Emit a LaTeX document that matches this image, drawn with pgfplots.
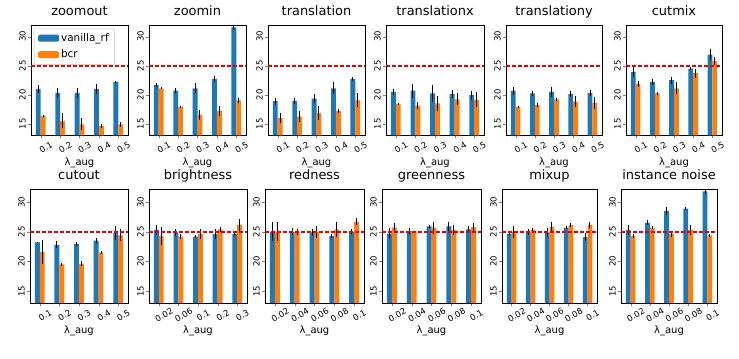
\documentclass[border=0pt]{standalone}
\usepackage{fontspec}
\setmainfont{DejaVu Sans}
\usepackage{pgfplots}
\usepackage{pgfplotstable}
\pgfplotsset{compat=1.18}
\definecolor{mblue}{HTML}{1F77B4}
\definecolor{morange}{HTML}{FF7F0E}
\definecolor{mred}{RGB}{235,0,0}

\pgfplotstableread{
x b be o oe
0 21.0 0.7 16.3 0.2
1 20.3 0.9 15.5 1.3
2 20.3 0.8 14.9 1.0
3 21.0 0.9 14.6 0.4
4 22.2 0.1 14.9 0.4
}\tzoomout
\pgfplotstableread{
x b be o oe
0 21.7 0.3 21.1 0.2
1 20.7 0.5 17.9 0.2
2 21.1 0.9 16.5 0.9
3 22.7 0.6 17.2 0.8
4 31.6 0.4 19.0 0.5
}\tzoomin
\pgfplotstableread{
x b be o oe
0 18.9 0.6 16.0 0.8
1 18.9 0.5 16.2 0.9
2 19.3 0.8 16.8 1.2
3 21.1 1.0 17.2 0.4
4 22.7 0.4 19.0 1.2
}\ttranslation
\pgfplotstableread{
x b be o oe
0 20.5 0.5 18.4 0.2
1 20.7 1.2 18.1 0.6
2 20.2 1.5 18.5 1.3
3 20.1 0.7 19.2 1.0
4 19.9 0.8 19.1 1.3
}\ttranslationx
\pgfplotstableread{
x b be o oe
0 20.7 0.7 17.9 0.1
1 20.2 0.4 18.2 0.3
2 20.5 0.9 19.2 0.3
3 20.1 0.5 18.8 0.9
4 20.3 0.5 18.6 1.0
}\ttranslationy
\pgfplotstableread{
x b be o oe
0 23.9 0.9 21.9 0.5
1 22.2 0.5 20.2 0.3
2 22.5 0.6 21.1 1.0
3 24.5 0.2 23.7 0.8
4 26.9 0.9 25.8 0.7
}\tcutmix
\pgfplotstableread{
x b be o oe
0 23.2 0.1 21.6 2.0
1 22.8 0.6 19.5 0.3
2 22.9 0.3 19.6 0.4
3 23.5 0.4 21.5 0.3
4 24.8 1.2 24.4 1.0
}\tcutout
\pgfplotstableread{
x b be o oe
0 25.3 0.8 24.3 1.5
1 24.9 0.6 24.2 0.5
2 24.2 0.2 24.6 0.9
3 24.6 0.9 25.4 0.4
4 24.6 0.3 26.2 1.0
}\tbrightness
\pgfplotstableread{
x b be o oe
0 25.0 1.6 25.0 1.6
1 25.0 0.6 25.0 0.5
2 24.9 0.6 25.0 1.0
3 24.3 0.3 25.4 1.2
4 25.0 0.4 26.7 0.6
}\tredness
\pgfplotstableread{
x b be o oe
0 24.7 0.9 25.7 0.7
1 25.1 0.5 25.1 0.1
2 25.9 0.3 25.7 1.0
3 25.9 0.8 25.3 0.9
4 25.4 0.5 25.8 0.6
}\tgreenness
\pgfplotstableread{
x b be o oe
0 24.6 0.2 25.0 1.0
1 25.0 0.5 25.3 0.4
2 24.9 0.7 25.8 0.8
3 25.7 0.3 26.1 0.3
4 24.1 0.7 26.2 0.5
}\tmixup
\pgfplotstableread{
x b be o oe
0 25.3 0.9 24.3 0.4
1 26.5 0.4 25.7 0.3
2 28.5 0.6 24.6 0.5
3 28.9 0.2 25.3 0.8
4 31.8 0.4 24.4 0.3
}\tinstance

\pgfplotsset{
  panel/.style={
    scale only axis, anchor=south west,
    xmin=-0.5, xmax=4.5, ymin=13,
    xtick={0,1,2,3,4}, ytick={15,20,25,30},
    tick align=outside, major tick length=3bp,
    xtick pos=left, ytick pos=left,
    tick label style={font=\fontsize{8.5}{10}\selectfont},
    /pgf/number format/assume math mode=true,
    yticklabel style={rotate=90, anchor=south, inner sep=2bp},
    xticklabel style={rotate=30, anchor=center, yshift=-10.5bp},
    xlabel={λ\_aug},
    xlabel style={font=\fontsize{10}{12}\selectfont, at={(axis description cs:0.5,0)}, anchor=center, yshift=-28bp},
    title style={font=\fontsize{13}{15}\selectfont, anchor=base, yshift=4bp},
  },
  bluebar/.style={ybar, bar shift=0pt, bar width=0.25, fill=mblue, draw=none},
  orangebar/.style={ybar, bar shift=0pt, bar width=0.25, fill=morange, draw=none},
  refline/.style={draw=mred, line width=1.9bp, dash pattern=on 4bp off 2bp},
}

\newcommand{\bars}[1]{%
  \addplot[bluebar, error bars/.cd, y dir=both, y explicit, error bar style={black, line width=1bp}, error mark=none]
    table[x expr=\thisrow{x}-0.125, y=b, y error=be]{#1};
  \addplot[orangebar, error bars/.cd, y dir=both, y explicit, error bar style={black, line width=1bp}, error mark=none]
    table[x expr=\thisrow{x}+0.125, y=o, y error=oe]{#1};
}

\begin{document}
\begin{tikzpicture}
\useasboundingbox (0,0) rectangle (739bp,359bp);
% top row
\begin{axis}[panel, at={(31bp,223.7bp)}, width=97bp, height=110.3bp, ymax=32, title={zoomout},
  xticklabels={0.1,0.2,0.3,0.4,0.5},
  legend cell align=left,
  legend style={at={(axis description cs:0.03,0.97)}, anchor=north west, draw=black!25, rounded corners=2bp,
    font=\fontsize{10.5}{12}\selectfont, inner xsep=4bp, inner ysep=3bp, row sep=3bp},
  legend image code/.code={\fill[#1] (0bp,-3.5bp) rectangle (21bp,3.5bp);},
  legend entries={vanilla\_rf, bcr}]
\bars{\tzoomout}
\addplot[refline] coordinates {(-0.5,24.95) (4.5,24.95)};
\end{axis}
\begin{axis}[panel, at={(149bp,223.7bp)}, width=97bp, height=110.3bp, ymax=32, title={zoomin},
  xticklabels={0.1,0.2,0.3,0.4,0.5}]
\bars{\tzoomin}
\addplot[refline] coordinates {(-0.5,24.95) (4.5,24.95)};
\end{axis}
\begin{axis}[panel, at={(268bp,223.7bp)}, width=97bp, height=110.3bp, ymax=32, title={translation},
  xticklabels={0.1,0.2,0.3,0.4,0.5}]
\bars{\ttranslation}
\addplot[refline] coordinates {(-0.5,24.95) (4.5,24.95)};
\end{axis}
\begin{axis}[panel, at={(386bp,223.7bp)}, width=98bp, height=110.3bp, ymax=32, title={translationx},
  xticklabels={0.1,0.2,0.3,0.4,0.5}]
\bars{\ttranslationx}
\addplot[refline] coordinates {(-0.5,24.95) (4.5,24.95)};
\end{axis}
\begin{axis}[panel, at={(506bp,223.7bp)}, width=96bp, height=110.3bp, ymax=32, title={translationy},
  xticklabels={0.1,0.2,0.3,0.4,0.5}]
\bars{\ttranslationy}
\addplot[refline] coordinates {(-0.5,24.95) (4.5,24.95)};
\end{axis}
\begin{axis}[panel, at={(626bp,223.7bp)}, width=96bp, height=110.3bp, ymax=32, title={cutmix},
  xticklabels={0.1,0.2,0.3,0.4,0.5}]
\bars{\tcutmix}
\addplot[refline] coordinates {(-0.5,24.95) (4.5,24.95)};
\end{axis}
% bottom row
\begin{axis}[panel, at={(30bp,56bp)}, width=98bp, height=114bp, ymax=32.2, title={cutout},
  xticklabels={0.1,0.2,0.3,0.4,0.5}]
\bars{\tcutout}
\addplot[refline] coordinates {(-0.5,25) (4.5,25)};
\end{axis}
\begin{axis}[panel, at={(149bp,56bp)}, width=98bp, height=114bp, ymax=32.2, title={brightness},
  xticklabels={0.02,0.06,0.1,0.2,0.3}]
\bars{\tbrightness}
\addplot[refline] coordinates {(-0.5,25) (4.5,25)};
\end{axis}
\begin{axis}[panel, at={(265bp,56bp)}, width=99bp, height=114bp, ymax=32.2, title={redness},
  xticklabels={0.02,0.04,0.06,0.08,0.1}]
\bars{\tredness}
\addplot[refline] coordinates {(-0.5,25) (4.5,25)};
\end{axis}
\begin{axis}[panel, at={(382bp,56bp)}, width=99bp, height=114bp, ymax=32.2, title={greenness},
  xticklabels={0.02,0.04,0.06,0.08,0.1}]
\bars{\tgreenness}
\addplot[refline] coordinates {(-0.5,25) (4.5,25)};
\end{axis}
\begin{axis}[panel, at={(502bp,56bp)}, width=95bp, height=114bp, ymax=32.2, title={mixup},
  xticklabels={0.02,0.04,0.06,0.08,0.1}]
\bars{\tmixup}
\addplot[refline] coordinates {(-0.5,25) (4.5,25)};
\end{axis}
\begin{axis}[panel, at={(621bp,56bp)}, width=96bp, height=114bp, ymax=32.2, title={instance noise},
  xticklabels={0.02,0.04,0.06,0.08,0.1}]
\bars{\tinstance}
\addplot[refline] coordinates {(-0.5,25) (4.5,25)};
\end{axis}
\end{tikzpicture}
\end{document}
